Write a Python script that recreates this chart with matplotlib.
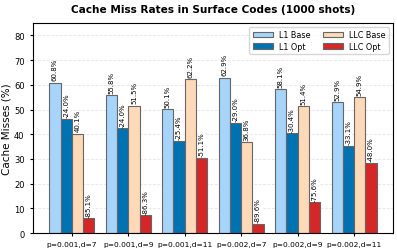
import numpy as np
import matplotlib
matplotlib.use('Agg')
import matplotlib.pyplot as plt

# values
configs = ['p=0.001,d=7', 'p=0.001,d=9', 'p=0.001,d=11',
           'p=0.002,d=7', 'p=0.002,d=9', 'p=0.002,d=11']
l1_base = [60.8, 55.8, 50.1, 62.9, 58.1, 52.9]
l1_opt = [46.2, 42.4, 37.4, 44.7, 40.4, 35.4]
llc_base = [40.1, 51.5, 62.2, 36.8, 51.4, 54.9]
llc_opt = [6.0, 7.1, 30.4, 3.8, 12.5, 28.5]
l1_red = [-24.0, -24.0, -25.4, -29.0, -30.4, -33.1]
llc_red = [-85.1, -86.3, -51.1, -89.6, -75.6, -48.0]

x = np.arange(len(configs))
w = 0.2

fig, ax = plt.subplots(figsize=(3.97, 2.53), dpi=100)
fig.subplots_adjust(left=0.083, right=0.99, top=0.905, bottom=0.075)

ec = '#666666'
b1 = ax.bar(x - 1.5 * w, l1_base, w, color='#a6d4fa', edgecolor=ec, linewidth=0.8, label='L1 Base')
b2 = ax.bar(x - 0.5 * w, l1_opt, w, color='#0072b2', edgecolor=ec, linewidth=0.8, label='L1 Opt')
b3 = ax.bar(x + 0.5 * w, llc_base, w, color='#ffd9b8', edgecolor=ec, linewidth=0.8, label='LLC Base')
b4 = ax.bar(x + 1.5 * w, llc_opt, w, color='#d62728', edgecolor=ec, linewidth=0.8, label='LLC Opt')

for bars, vals in [(b1, l1_base), (b3, llc_base)]:
    for b, v in zip(bars, vals):
        ax.text(b.get_x() + b.get_width() / 2, v + 1, f'{v:.1f}%', rotation=90,
                ha='center', va='bottom', fontsize=5)

for bars, vals, reds in [(b2, l1_opt, l1_red), (b4, llc_opt, llc_red)]:
    for b, v, r in zip(bars, vals, reds):
        ax.text(b.get_x() + b.get_width() / 2, v + 0.6, f'{r:.1f}%', rotation=90,
                ha='center', va='bottom', fontsize=5,
                bbox=dict(boxstyle='square,pad=0.15', facecolor='white', edgecolor='none'))

ax.set_ylim(0, 85)
ax.set_xticks(x)
ax.set_xticklabels(configs, fontsize=5.4)
ax.tick_params(axis='y', labelsize=6, length=2.5)
ax.tick_params(axis='x', length=2.5, pad=3)
ax.set_ylabel('Cache Misses (%)', fontsize=7.5, labelpad=2)
ax.set_title('Cache Miss Rates in Surface Codes (1000 shots)', fontsize=7.6,
             fontweight='bold', pad=8)
ax.yaxis.grid(True, linestyle='--', alpha=0.3, linewidth=0.6)
ax.set_axisbelow(True)
ax.legend(ncol=2, fontsize=5.8, loc='upper right', handlelength=2.5,
          columnspacing=1.5, borderpad=0.4, labelspacing=0.3)

plt.savefig('out.png', dpi=100)
